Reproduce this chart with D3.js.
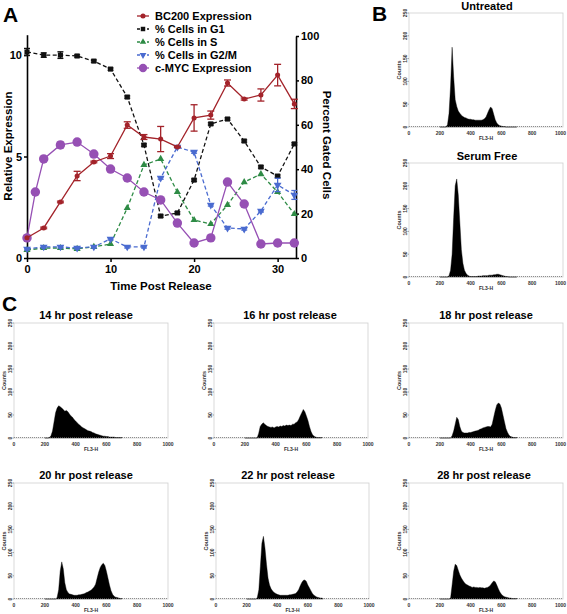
<!DOCTYPE html>
<html><head><meta charset="utf-8">
<script src="https://cdn.jsdelivr.net/npm/d3@7/dist/d3.min.js"></script>
<style>
body{margin:0;background:#fff;}
svg{display:block;font-family:"Liberation Sans",Arial,sans-serif;}
</style></head><body>
<script>
// ---------- Panel A data ----------
const timePoints = [0,2,4,6,8,10,12,14,16,18,20,22,24,26,28,30,32];
const bc200 = [1.0,1.48,2.76,4.04,4.73,5.02,6.55,5.96,5.86,5.47,6.9,7.04,8.62,7.83,8.03,9.01,7.59];
const bc200Err = [0,0.04,0.04,0.23,0.04,0.12,0.16,0.12,0.62,0.03,0.65,0.2,0.15,0.05,0.3,0.53,0.23];
const g1Pct = [92.8,91.4,91.4,91.0,88.7,85.1,72.5,50.9,18.9,20.3,35.1,60.4,62.6,52.7,41.0,36.9,51.4];
const g1Err = [1.6,1.0,1.5,0.5,0.5,0.5,0.5,0.5,0.5,0.5,0.5,0.5,0.5,0.5,0.5,0.5,0.5];
const sPct = [3.6,4.5,4.5,4.1,5.0,6.3,22.5,41.9,44.6,29.7,17.1,15.3,23.9,34.2,37.8,29.7,19.8];
const g2mPct = [4.1,5.0,5.0,4.5,5.0,8.6,5.0,5.0,36.0,50.0,47.7,23.9,13.5,13.1,21.2,32.9,28.4];
const g2mErr = [0.5,0.5,0.5,0.5,0.5,0.5,0.5,0.5,0.5,0.5,0.5,0.5,0.5,0.5,0.5,3.0,2.0];
const mycTimes = [0,1,2,4,6,8,10,12,14,16,18,20,22,24,26,28,30,32];
const mycExpr = [0.99,3.25,4.88,5.57,5.71,5.12,4.38,3.94,3.25,2.86,1.72,0.74,0.99,3.74,2.66,0.69,0.74,0.74];
const mycErr = [0,0,0,0.15,0.1,0,0,0,0,0,0,0,0,0,0,0,0,0];
const legendLabels = ["BC200 Expression","% Cells in G1","% Cells in S","% Cells in G2/M","c-MYC Expression"];
const leftTicks = [0,5,10];
const rightTicks = [0,20,40,60,80,100];
const timeTicks = [0,10,20,30];

// ---------- Histogram data (counts per FL3-H channel bin) ----------
const fl3Bins = [200,210,220,230,240,250,260,270,280,290,300,310,320,330,340,350,360,370,380,390,400,410,420,430,440,450,460,470,480,490,500,510,520,530,540,550,560,570,580,590,600,610,620,630,640,650,660,670,680,690,700];
const untreated = [0,0,0,0,0,5,30,90,175,110,60,45,35,30,26,23,21,20,18,17,17,16,16,15,15,15,15,15,16,18,22,30,38,44,40,28,16,9,5,3,2,1,1,0,0,0,0,0,0,0,0];
const serumFree = [0,0,0,0,0,0,3,15,50,130,200,215,180,120,60,30,15,8,4,2,1,1,1,1,1,2,2,2,3,3,3,3,4,4,4,5,5,6,6,5,4,3,2,1,1,0,0,0,0,0,0];
const hr14 = [0,0,0,1,5,15,35,55,65,70,68,65,62,58,60,57,52,48,45,40,37,33,30,27,24,22,20,18,16,15,14,12,11,9,8,7,6,5,4,4,3,3,2,2,2,2,1,1,1,1,1];
const hr16 = [0,0,0,0,0,0,0,0,0,10,25,30,33,30,27,25,24,23,24,22,24,25,24,26,25,27,26,28,27,28,27,30,30,33,35,40,48,55,62,57,48,38,25,14,7,4,2,1,1,1,1];
const hr18 = [0,0,0,0,0,0,0,0,5,15,30,45,40,25,15,12,11,11,11,12,12,13,14,15,16,17,19,20,22,23,24,25,25,24,30,45,60,72,76,74,65,50,35,20,12,6,3,2,1,1,1];
const hr20 = [0,0,0,0,0,0,0,0,3,20,60,80,65,35,20,14,11,10,9,8,8,8,9,9,10,11,12,14,15,17,19,22,26,32,45,58,68,74,77,72,60,45,30,18,10,6,4,3,2,1,1];
const hr22 = [0,0,0,0,0,0,0,3,20,70,120,135,110,75,45,30,22,17,14,12,10,9,8,8,8,8,8,8,9,9,10,11,12,15,20,28,35,40,41,38,30,24,18,12,8,6,4,3,2,2,1];
const hr28 = [0,0,0,0,0,0,0,2,30,60,75,72,62,52,45,40,35,32,30,28,27,25,26,25,25,24,25,24,24,23,24,25,27,30,35,39,37,30,22,15,10,7,5,4,3,2,2,1,1,1,1];
const countTicks = [0,50,100,150,200,250];
const fl3Ticks = [0,200,400,600,800,1000];

const W = 567, H = 614;
const svg = d3.select("body").append("svg").attr("width", W).attr("height", H);
svg.append("rect").attr("width", W).attr("height", H).attr("fill", "#fff");

// ---------- Panel A ----------
const colors = {bc:"#A3232A", g1:"#111111", s:"#2E8B45", g2m:"#4A6BD0", myc:"#9650B4"};
const xA = d3.scaleLinear().domain([0,32.2]).range([27,296]);
const yL = d3.scaleLinear().domain([0,11]).range([258,34.7]);
const yR = d3.scaleLinear().domain([0,100]).range([258,36]);
const A = svg.append("g");

function styleAxis(g){
  g.selectAll("path.domain").attr("stroke","#000").attr("stroke-width",1.6);
  g.selectAll(".tick line").attr("stroke","#000").attr("stroke-width",1.5);
  g.selectAll(".tick text").attr("font-size",11).attr("font-weight","bold").attr("fill","#000")
   .attr("font-family","Liberation Sans, Arial, sans-serif");
}
A.append("g").attr("transform","translate(0,258)")
  .call(d3.axisBottom(xA).tickValues(timeTicks).tickFormat(d3.format("d")).tickSize(4).tickSizeOuter(0).tickPadding(3))
  .call(styleAxis);
A.append("g").attr("transform","translate(27,0)")
  .call(d3.axisLeft(yL).tickValues(leftTicks).tickSize(3).tickSizeOuter(0).tickPadding(2))
  .call(styleAxis);
A.append("g").attr("transform","translate(296,0)")
  .call(d3.axisRight(yR).tickValues(rightTicks).tickSize(3).tickSizeOuter(0).tickPadding(2))
  .call(styleAxis);

A.append("text").attr("x",161).attr("y",290).attr("text-anchor","middle")
  .attr("font-size",11.5).attr("font-weight","bold").text("Time Post Release");
A.append("text").attr("transform","translate(12,146) rotate(-90)").attr("text-anchor","middle")
  .attr("font-size",11.5).attr("font-weight","bold").text("Relative Expression");
A.append("text").attr("transform","translate(323,145) rotate(90)").attr("text-anchor","middle")
  .attr("font-size",11.5).attr("font-weight","bold").text("Percent Gated Cells");

function series(times, vals, errs, yScale, color, dashed, symType, symSize, capW){
  const g = A.append("g");
  const line = d3.line().x((d,i)=>xA(times[i])).y(d=>yScale(d));
  g.append("path").datum(vals).attr("d",line).attr("fill","none").attr("stroke",color)
    .attr("stroke-width",1.3).attr("stroke-dasharray",dashed?"4,2.5":null);
  vals.forEach((v,i)=>{
    const e = errs[i];
    if(e>0){
      const x = xA(times[i]), y1 = yScale(v-e), y2 = yScale(v+e);
      g.append("line").attr("x1",x).attr("x2",x).attr("y1",y1).attr("y2",y2).attr("stroke",color).attr("stroke-width",1.3);
      g.append("line").attr("x1",x-capW).attr("x2",x+capW).attr("y1",y1).attr("y2",y1).attr("stroke",color).attr("stroke-width",1.3);
      g.append("line").attr("x1",x-capW).attr("x2",x+capW).attr("y1",y2).attr("y2",y2).attr("stroke",color).attr("stroke-width",1.3);
    }
  });
  g.selectAll("path.m").data(vals).join("path").attr("class","m")
    .attr("transform",(d,i)=>`translate(${xA(times[i])},${yScale(d)})${symType.rot?" rotate(180)":""}`)
    .attr("d",d3.symbol().type(symType.t).size(symSize)).attr("fill",color);
}
const SQ = {t:d3.symbolSquare}, TRI = {t:d3.symbolTriangle}, TRID = {t:d3.symbolTriangle, rot:true}, CIR = {t:d3.symbolCircle};
series(timePoints, g1Pct, g1Err, yR, colors.g1, true, SQ, 26, 3);
series(timePoints, sPct, timePoints.map(()=>0), yR, colors.s, true, TRI, 22, 3);
series(timePoints, g2mPct, g2mErr, yR, colors.g2m, true, TRID, 26, 3);
series(mycTimes, mycExpr, mycErr, yL, colors.myc, false, CIR, 70, 3);
series(timePoints, bc200, bc200Err, yL, colors.bc, false, CIR, 20, 3.5);

// legend
const legendKeys = [
  {c:colors.bc, d:false, s:CIR, sz:20},
  {c:colors.g1, d:true, s:SQ, sz:20},
  {c:colors.s, d:true, s:TRI, sz:18},
  {c:colors.g2m, d:true, s:TRID, sz:20},
  {c:colors.myc, d:false, s:CIR, sz:55}
];
legendLabels.forEach((lab,i)=>{
  const y = 16 + i*13;
  const k = legendKeys[i];
  A.append("line").attr("x1",137).attr("x2",149).attr("y1",y).attr("y2",y).attr("stroke",k.c)
    .attr("stroke-width",1.3).attr("stroke-dasharray",k.d?"3,2":null);
  A.append("path").attr("transform",`translate(143,${y})${k.s.rot?" rotate(180)":""}`)
    .attr("d",d3.symbol().type(k.s.t).size(k.sz)).attr("fill",k.c);
  A.append("text").attr("x",155).attr("y",y+4).attr("font-size",11).attr("font-weight","bold").text(lab);
});

// panel letters
svg.append("text").attr("x",3).attr("y",22).attr("font-size",21).attr("font-weight","bold").text("A");
svg.append("text").attr("x",372).attr("y",21).attr("font-size",21).attr("font-weight","bold").text("B");
svg.append("text").attr("x",2).attr("y",311).attr("font-size",21).attr("font-weight","bold").text("C");

// ---------- Histograms ----------
function hist(cfg){
  const g = svg.append("g");
  const x = d3.scaleLinear().domain([0,1000]).range([cfg.left,cfg.right]);
  const y = d3.scaleLinear().domain([0,250]).range([cfg.bottom,cfg.top]);
  g.append("rect").attr("x",cfg.left).attr("y",cfg.top).attr("width",cfg.right-cfg.left)
    .attr("height",cfg.bottom-cfg.top).attr("fill","none").attr("stroke","#cfcfcf").attr("stroke-width",0.8);
  const area = d3.area().x((d,i)=>x(fl3Bins[i])).y0(y(0)).y1(d=>y(d));
  g.append("path").datum(cfg.counts).attr("d",area).attr("fill","#000").attr("stroke","#000").attr("stroke-width",0.4);
  g.append("line").attr("x1",cfg.left).attr("x2",cfg.right).attr("y1",cfg.bottom-0.5).attr("y2",cfg.bottom-0.5)
    .attr("stroke","#666").attr("stroke-width",0.7).attr("stroke-dasharray","1,1");
  countTicks.forEach(v=>{
    g.append("line").attr("x1",cfg.left-1.5).attr("x2",cfg.left).attr("y1",y(v)).attr("y2",y(v)).attr("stroke","#555").attr("stroke-width",0.5);
    g.append("text").attr("transform",`translate(${cfg.left-2},${y(v)}) rotate(-90)`).attr("text-anchor","middle")
      .attr("font-size",5).attr("font-weight","bold").attr("fill","#333").text(v);
  });
  fl3Ticks.forEach(v=>{
    const xc = x(v);
    const overflow = xc + 5.6 > W - 1;
    g.append("text").attr("x",overflow ? W - 1 : xc).attr("y",cfg.bottom+8)
      .attr("text-anchor",overflow ? "end" : "middle")
      .attr("font-size",5).attr("font-weight","bold").attr("fill","#333").text(v);
  });
  g.append("text").attr("x",(cfg.left+cfg.right)/2).attr("y",cfg.bottom+13).attr("text-anchor","middle")
    .attr("font-size",5).attr("font-weight","bold").attr("fill","#333").text("FL3-H");
  g.append("text").attr("transform",`translate(${cfg.left-8.5},${(cfg.top+cfg.bottom)/2}) rotate(-90)`).attr("text-anchor","middle")
    .attr("font-size",5.5).attr("font-weight","bold").attr("fill","#333").text("Counts");
  g.append("text").attr("x",cfg.tx).attr("y",cfg.ty).attr("text-anchor","middle")
    .attr("font-size",11).attr("font-weight","bold").text(cfg.title);
}
hist({left:409,right:563,top:13,bottom:127,counts:untreated,title:"Untreated",tx:487,ty:9.5});
hist({left:409,right:563,top:163,bottom:277,counts:serumFree,title:"Serum Free",tx:487,ty:160});
hist({left:14,right:168,top:323,bottom:438,counts:hr14,title:"14 hr post release",tx:86,ty:319});
hist({left:214,right:368,top:323,bottom:438,counts:hr16,title:"16 hr post release",tx:290,ty:319});
hist({left:409,right:563,top:323,bottom:438,counts:hr18,title:"18 hr post release",tx:486,ty:319});
hist({left:14,right:168,top:483,bottom:599,counts:hr20,title:"20 hr post release",tx:86,ty:479});
hist({left:216,right:369,top:483,bottom:599,counts:hr22,title:"22 hr post release",tx:288,ty:479});
hist({left:409,right:563,top:483,bottom:599,counts:hr28,title:"28 hr post release",tx:484,ty:479});
</script>
</body></html>
